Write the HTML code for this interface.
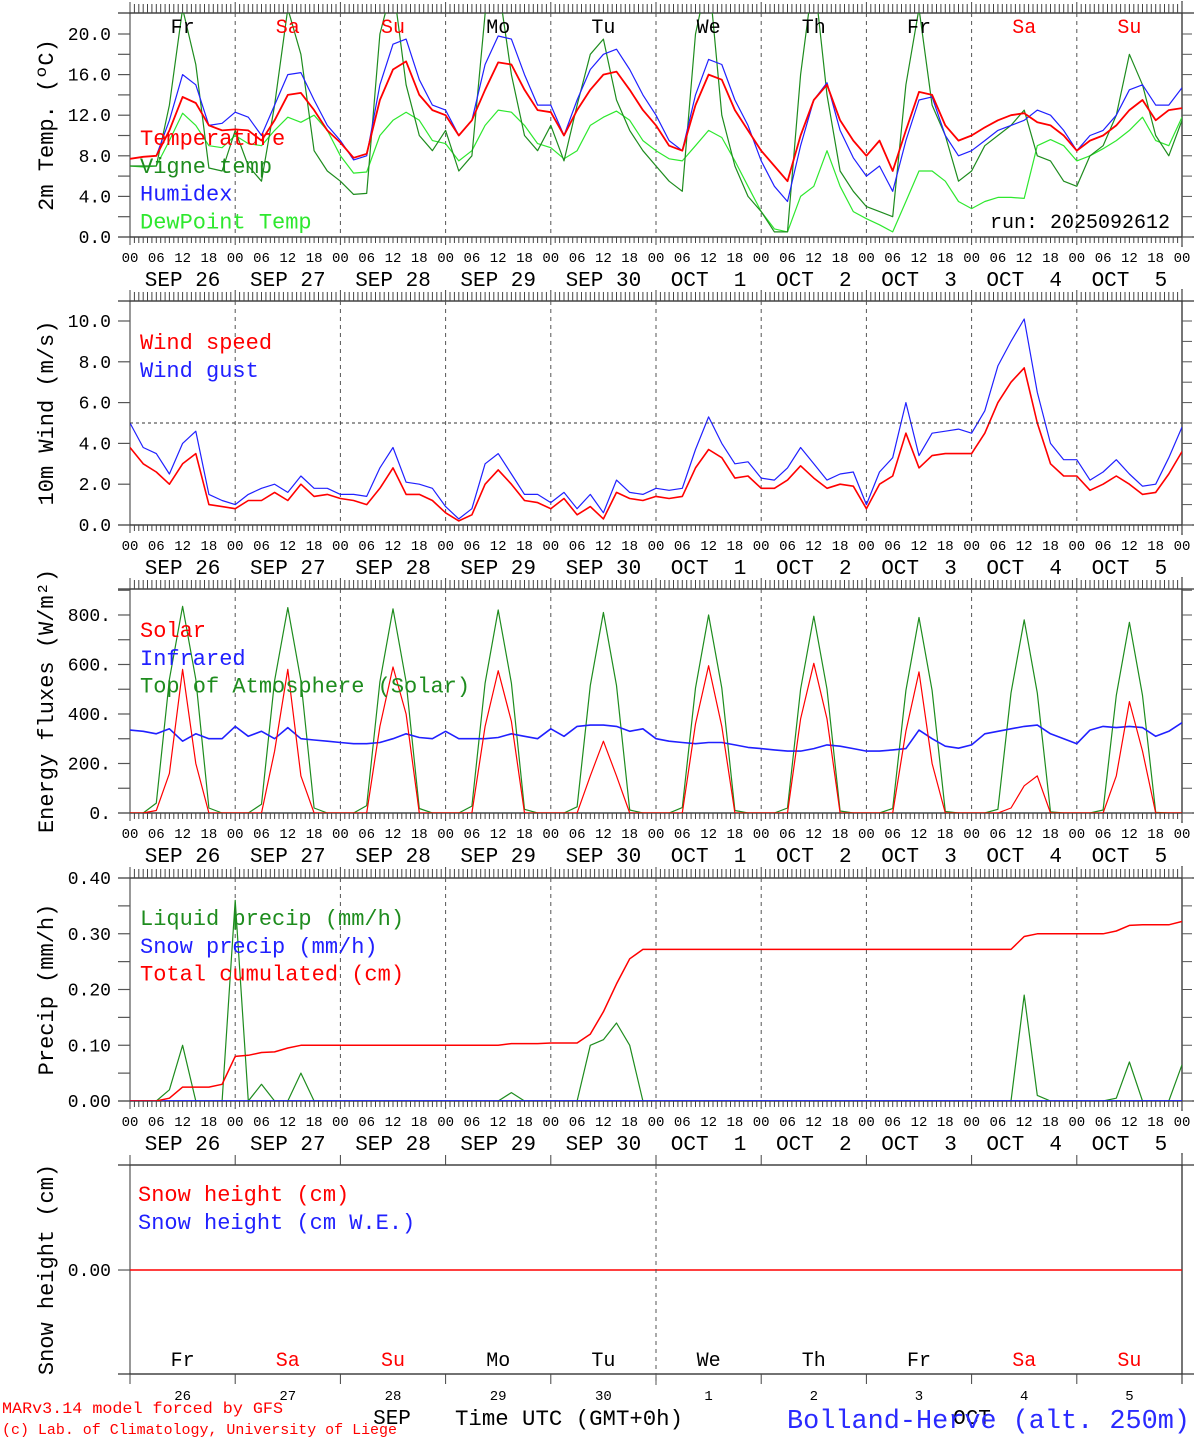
<!DOCTYPE html>
<html><head><meta charset="utf-8"><title>MAR meteogram Bolland-Herve</title>
<style>
html,body{margin:0;padding:0;background:#fff;}
svg{display:block;}
text{font-family:"Liberation Mono","DejaVu Sans Mono",monospace;}
</style></head>
<body>
<svg id="chart" width="1194" height="1440" viewBox="0 0 1194 1440" xmlns="http://www.w3.org/2000/svg"></svg>
<script>
// ---- data (3-hourly, Sep 26 00 UTC -> Oct 6 00 UTC) ----
const dayNames = ["Fr","Sa","Su","Mo","Tu","We","Th","Fr","Sa","Su"];
const dayColors = ["#000","#f00","#f00","#000","#000","#000","#000","#000","#f00","#f00"];
const dateLabels = ["SEP 26","SEP 27","SEP 28","SEP 29","SEP 30","OCT  1","OCT  2","OCT  3","OCT  4","OCT  5"];
const dayNumbers = ["26","27","28","29","30","1","2","3","4","5"];
const hourLabels = ["00","06","12","18"];

const temperature = [7.7,7.9,8.0,10.5,13.8,13.2,11.0,10.5, 10.6,10.5,9.5,11.5,14.0,14.2,12.5,10.5,
 9.3,7.8,8.2,13.5,16.5,17.3,14.0,12.5, 12.0,10.0,11.5,14.5,17.2,17.0,14.5,12.5,
 12.3,10.0,12.5,14.5,16.0,16.3,14.5,12.5, 11.0,9.0,8.5,13.0,16.0,15.5,12.5,10.5,
 8.5,7.0,5.5,10.0,13.5,15.0,11.5,9.5, 8.0,9.5,6.5,10.5,14.3,14.0,11.0,9.5,
 10.0,10.8,11.5,12.0,12.2,11.3,11.0,10.0, 8.5,9.5,10.0,11.0,12.5,13.5,11.5,12.5,12.7];
const humidex = [7.7,7.9,8.0,11.5,16.0,15.0,11.0,11.2, 12.3,11.8,10.0,13.0,16.0,16.2,13.5,11.0,
 9.5,7.6,8.0,15.0,19.0,19.5,15.5,13.0, 12.5,10.0,11.5,17.0,19.8,19.5,16.0,13.0,
 13.0,10.0,13.5,16.5,18.0,18.5,16.5,14.0, 12.0,9.5,8.5,14.0,17.5,17.0,13.5,11.0,
 7.5,5.0,3.5,9.0,13.5,15.2,10.5,7.8, 6.0,7.0,4.5,9.5,13.5,13.8,10.0,8.0,
 8.5,9.5,10.5,11.0,11.5,12.5,12.0,10.5, 8.5,10.0,10.5,12.0,14.5,15.0,13.0,13.0,14.7];
const dewpoint = [7.0,6.9,7.0,9.5,12.2,11.0,9.0,8.8, 10.0,9.2,9.0,10.5,11.8,11.3,12.0,10.5,
 8.0,6.3,6.4,10.0,11.5,12.3,11.5,9.5, 9.2,7.5,8.5,11.0,12.5,12.3,11.0,9.2,
 8.8,7.7,8.5,11.0,11.8,12.4,11.5,9.5, 8.5,7.7,7.5,9.0,10.5,9.8,7.5,5.0,
 2.5,0.8,0.5,4.0,5.0,8.5,5.0,2.5, 1.8,1.2,0.5,3.5,6.5,6.5,5.5,3.5,
 2.8,3.5,3.9,3.9,3.8,9.0,9.6,9.0, 7.5,8.0,8.7,9.5,10.5,11.8,9.5,9.0,11.8];
const vigne = [7.0,7.0,7.0,13.0,22.5,17.0,6.8,6.5, 10.5,7.0,5.5,13.0,22.5,18.0,8.5,6.5,
 5.5,4.2,4.3,20.0,25.0,15.0,10.0,8.5, 10.5,6.5,8.0,22.0,25.0,16.0,10.0,8.5,
 11.0,7.5,13.0,18.0,19.5,13.5,10.5,8.5, 7.0,5.5,4.5,20.0,26.0,12.0,7.0,4.0,
 2.5,0.5,0.5,16.0,26.0,14.0,6.5,4.5, 3.0,2.5,2.0,15.0,22.5,13.0,10.0,5.5,
 6.5,9.0,10.0,11.0,12.5,8.0,7.5,5.5, 5.0,8.0,9.0,12.0,18.0,15.0,10.0,8.0,11.5];

const windSpeed = [3.8,3.0,2.6,2.0,3.0,3.5,1.0,0.9, 0.8,1.2,1.2,1.6,1.2,2.0,1.4,1.5,
 1.3,1.2,1.0,1.8,2.8,1.5,1.5,1.2, 0.6,0.2,0.5,2.0,2.7,2.0,1.2,1.1,
 0.8,1.3,0.5,0.9,0.3,1.6,1.3,1.2, 1.4,1.3,1.4,2.8,3.7,3.3,2.3,2.4,
 1.8,1.8,2.2,2.9,2.3,1.8,2.0,1.9, 0.8,2.0,2.4,4.5,2.8,3.4,3.5,3.5,
 3.5,4.5,6.0,7.0,7.7,5.0,3.0,2.4, 2.4,1.7,2.0,2.4,2.0,1.5,1.6,2.5,3.6];
const windGust = [5.0,3.8,3.5,2.5,4.0,4.6,1.5,1.2, 1.0,1.5,1.8,2.0,1.6,2.4,1.8,1.8,
 1.5,1.5,1.4,2.8,3.8,2.1,2.0,1.8, 0.9,0.3,0.8,3.0,3.5,2.5,1.5,1.5,
 1.1,1.6,0.8,1.5,0.6,2.2,1.6,1.5, 1.8,1.7,1.8,3.7,5.3,4.0,3.0,3.1,
 2.3,2.2,2.8,3.8,3.0,2.2,2.5,2.6, 1.0,2.6,3.3,6.0,3.4,4.5,4.6,4.7,
 4.5,5.6,7.8,9.0,10.1,6.5,4.0,3.2, 3.2,2.2,2.6,3.2,2.5,1.9,2.0,3.3,4.8];

const toaSolar = [0,0,40,540,835,540,20,0, 0,0,35,535,830,535,20,0, 0,0,30,530,825,530,18,0,
 0,0,28,525,820,525,15,0, 0,0,25,515,810,515,12,0, 0,0,22,505,800,505,10,0,
 0,0,20,500,795,500,8,0, 0,0,18,495,790,495,6,0, 0,0,15,485,780,485,5,0,
 0,0,12,475,770,475,3,0,0];
const solar = [0,0,10,160,580,200,0,0, 0,0,0,250,580,150,0,0, 0,0,0,350,590,400,0,0,
 0,0,0,350,575,370,0,0, 0,0,0,150,290,150,0,0, 0,0,0,360,595,350,0,0,
 0,0,0,380,605,380,0,0, 0,0,0,330,570,200,0,0, 0,0,0,20,110,150,0,0,
 0,0,0,150,450,250,0,0,0];
const infrared = [335,330,320,340,290,320,300,300, 350,310,330,300,345,300,295,290,
 285,280,280,285,300,320,305,300, 330,300,300,300,305,320,310,300,
 340,310,350,355,355,350,330,340, 300,290,285,280,285,285,275,265,
 260,255,250,250,260,275,270,260, 250,250,255,260,335,300,270,262,
 275,320,330,340,350,355,320,300, 280,335,350,345,350,345,310,330,365];

const liquidPrecip = [0,0,0,0.02,0.10,0,0,0, 0.36,0,0.03,0,0,0.05,0,0, 0,0,0,0,0,0,0,0,
 0,0,0,0,0,0.015,0,0, 0,0,0,0.10,0.11,0.14,0.10,0, 0,0,0,0,0,0,0,0,
 0,0,0,0,0,0,0,0, 0,0,0,0,0,0,0,0, 0,0,0,0,0.19,0.01,0,0,
 0,0,0,0.005,0.07,0,0,0,0.065];
const snowPrecip = [0,0,0,0,0,0,0,0, 0,0,0,0,0,0,0,0, 0,0,0,0,0,0,0,0, 0,0,0,0,0,0,0,0,
 0,0,0,0,0,0,0,0, 0,0,0,0,0,0,0,0, 0,0,0,0,0,0,0,0, 0,0,0,0,0,0,0,0,
 0,0,0,0,0,0,0,0, 0,0,0,0,0,0,0,0,0];
const totalCumul = [0,0,0,0.005,0.025,0.025,0.025,0.03, 0.08,0.082,0.087,0.088,0.095,0.10,0.10,0.10,
 0.10,0.10,0.10,0.10,0.10,0.10,0.10,0.10, 0.10,0.10,0.10,0.10,0.10,0.103,0.103,0.103,
 0.104,0.104,0.104,0.12,0.16,0.21,0.255,0.272, 0.272,0.272,0.272,0.272,0.272,0.272,0.272,0.272,
 0.272,0.272,0.272,0.272,0.272,0.272,0.272,0.272, 0.272,0.272,0.272,0.272,0.272,0.272,0.272,0.272,
 0.272,0.272,0.272,0.272,0.295,0.30,0.30,0.30, 0.30,0.30,0.30,0.305,0.315,0.316,0.316,0.316,0.322];
const snowHeight = [0,0,0,0,0,0,0,0,0,0,0];

const tempTicks = ["0.0","4.0","8.0","12.0","16.0","20.0"];
const windTicks = ["0.0","2.0","4.0","6.0","8.0","10.0"];
const fluxTicks = ["0.","200.","400.","600.","800."];
const precipTicks = ["0.00","0.10","0.20","0.30","0.40"];
const snowTicks = ["0.00"];

// ---- layout ----
const NS = "http://www.w3.org/2000/svg";
const svg = document.getElementById('chart');
const X0 = 130, X1 = 1182, NSTEP = 80;
const dayW = (X1 - X0) / 10;
function xAt(i){ return X0 + (X1 - X0) * i / NSTEP; }
function mk(tag, attrs, parent){ const e = document.createElementNS(NS, tag); for (const k in attrs) e.setAttribute(k, attrs[k]); (parent||svg).appendChild(e); return e; }
function txt(s, x, y, size, color, anchor, parent){ const t = mk('text', {x:x, y:y, 'font-size':size, fill:color||'#000', 'text-anchor':anchor||'start'}, parent); t.setAttribute('xml:space','preserve'); t.style.whiteSpace='pre'; t.textContent = s; return t; }

function panel(cfg){
  const g = mk('g', {});
  
  
  const yAt = v => cfg.bot - (v - cfg.ymin) / (cfg.ymax - cfg.ymin) * (cfg.bot - cfg.top);
  const t0 = (cfg.t0 !== undefined) ? cfg.t0 : cfg.ymin;
  const fr = mk('rect', {x:X0, y:cfg.top, width:X1-X0, height:cfg.bot-cfg.top, fill:'none', stroke:'#555', 'stroke-width':1.2}, g);
  
  
  mk('line', {x1:118, y1:cfg.top, x2:1194, y2:cfg.top, stroke:'#333', 'stroke-width':1.2}, g);
  mk('line', {x1:118, y1:cfg.bot, x2:1194, y2:cfg.bot, stroke:'#333', 'stroke-width':1.2}, g);
  mk('line', {x1:X1, y1:cfg.top-12, x2:X1, y2:cfg.bot+10, stroke:'#333', 'stroke-width':1.2}, g);
  if (!cfg.snow){
    let d = '';
    for (let h = 0; h <= 240; h++){
      const x = X0 + (X1 - X0) * h / 240;
      const big = h % 24 === 0;
      d += `M${x.toFixed(1)} ${cfg.top} V${cfg.top - (big ? 11 : 9)} M${x.toFixed(1)} ${cfg.bot} V${cfg.bot + (big ? 8 : 6)} `;
    }
    mk('path', {d:d, stroke:'#444', 'stroke-width':1, fill:'none'}, g);
    for (let dd = 0; dd <= 10; dd++){
      for (let k = 0; k < 4; k++){
        if (dd === 10 && k > 0) break;
        const x = X0 + dd * dayW + k * dayW / 4;
        const t = txt(hourLabels[k], x, cfg.bot + 25, 14, '#000', 'middle', g);
        
        
      }
      if (dd < 10){
        const t = txt(dateLabels[dd], X0 + dd * dayW + dayW/2, cfg.bot + 49, 21, '#000', 'middle', g);
        
        
      }
    }
    for (let dd = 1; dd < 10; dd++){
      const x = X0 + dd * dayW;
      mk('line', {x1:x, y1:cfg.top, x2:x, y2:cfg.bot, stroke:'#555', 'stroke-width':1, 'stroke-dasharray':'4,4'}, g);
    }
  }
  cfg.ticks.forEach((lab, i) => {
    const v = t0 + i * cfg.tstep;
    const y = yAt(v);
    mk('line', {x1:118, y1:y, x2:X0, y2:y, stroke:'#555', 'stroke-width':1.2}, g);
    if (!cfg.snow) mk('line', {x1:X1, y1:y, x2:X1+10, y2:y, stroke:'#555', 'stroke-width':1}, g);
    const t = txt(lab, 111, y + 6, 18, '#000', 'end', g);
    
    
    if (cfg.minor){
      const ym = yAt(v + cfg.tstep/2);
      if (ym > cfg.top + 1){
        mk('line', {x1:118, y1:ym, x2:X0, y2:ym, stroke:'#555', 'stroke-width':1.2}, g);
        mk('line', {x1:X1, y1:ym, x2:X1+10, y2:ym, stroke:'#555', 'stroke-width':1}, g);
      }
    }
  });
  const yt = txt(cfg.title, 0, 0, 22, '#000', 'middle', g);
  yt.setAttribute('transform', `translate(${cfg.titleX||53},${(cfg.top+cfg.bot)/2}) rotate(-90)`);
  
  
  const cid = 'clip-' + cfg.name;
  const cp = mk('clipPath', {id:cid}, g);
  mk('rect', {x:X0, y:cfg.top, width:X1-X0, height:cfg.bot-cfg.top}, cp);
  cfg.series.forEach(s => {
    let d = '';
    s.data.forEach((v, i) => { d += (i ? 'L' : 'M') + xAt(i * (s.step||1)).toFixed(1) + ' ' + yAt(v).toFixed(1); });
    const p = mk('path', {d:d, fill:'none', stroke:s.color, 'stroke-width':s.w||1.2, 'clip-path':`url(#${cid})`, 'stroke-linejoin':'round'}, g);
    
    
  });
  cfg.legend.forEach((l, i) => {
    const t = txt(l[0], cfg.legX||140, cfg.legY + i * 27.8, 22, l[1], 'start', g);
    
    
  });
  return {g, yAt};
}

const p1 = panel({name:'temperature-panel', top:13, bot:237, ymin:0, ymax:22.07, ticks:tempTicks, tstep:4, minor:true,
  title:'2m Temp. (ºC)', legY:145,
  series:[{name:'dewpoint-line',data:dewpoint,color:'#2ee82e'},{name:'vigne-temp-line',data:vigne,color:'#1e8c1e'},
          {name:'humidex-line',data:humidex,color:'#2020ff'},{name:'temperature-line',data:temperature,color:'#ff0000',w:1.8}],
  legend:[['Temperature','#ff0000'],['Vigne temp','#1e8c1e'],['Humidex','#2020ff'],['DewPoint Temp','#2ee82e']]});
dayNames.forEach((n, i) => {
  const t = txt(n, X0 + i * dayW + dayW/2, 33, 20, dayColors[i], 'middle', p1.g);
  
  
});
const run = txt('run: 2025092612', 1170, 228, 20, '#000', 'end', p1.g);



const p2 = panel({name:'wind-panel', top:301, bot:525, ymin:0, ymax:10.98, ticks:windTicks, tstep:2, minor:false,
  title:'10m Wind (m/s)', legY:349,
  series:[{name:'wind-gust-line',data:windGust,color:'#2020ff'},{name:'wind-speed-line',data:windSpeed,color:'#ff0000',w:1.6}],
  legend:[['Wind speed','#ff0000'],['Wind gust','#2020ff']]});
{ const y = p2.yAt(5); const l = mk('line', {x1:X0, y1:y, x2:X1, y2:y, stroke:'#333', 'stroke-width':1, 'stroke-dasharray':'3,3'}, p2.g);
    }
for (let v = 1; v < 11; v += 2){ const y = p2.yAt(v); mk('line', {x1:X1, y1:y, x2:X1+10, y2:y, stroke:'#555'}, p2.g); }

const p3 = panel({name:'energy-panel', top:589, bot:813, ymin:0, ymax:905, ticks:fluxTicks, tstep:200, minor:true,
  title:'Energy fluxes (W/m²)', legY:637,
  series:[{name:'toa-solar-line',data:toaSolar,color:'#1e8c1e'},{name:'infrared-line',data:infrared,color:'#2020ff',w:1.6},
          {name:'solar-line',data:solar,color:'#ff0000'}],
  legend:[['Solar','#ff0000'],['Infrared','#2020ff'],['Top of Atmosphere (Solar)','#1e8c1e']]});

const p4 = panel({name:'precip-panel', top:878, bot:1101, ymin:0, ymax:0.40, ticks:precipTicks, tstep:0.1, minor:true,
  title:'Precip (mm/h)', legY:925,
  series:[{name:'liquid-precip-line',data:liquidPrecip,color:'#1e8c1e'},{name:'snow-precip-line',data:snowPrecip,color:'#2020ff',w:1.8},
          {name:'total-cumulated-line',data:totalCumul,color:'#ff0000',w:1.5}],
  legend:[['Liquid precip (mm/h)','#1e8c1e'],['Snow precip (mm/h)','#2020ff'],['Total cumulated (cm)','#ff0000']]});

const p5 = panel({name:'snow-panel', top:1165, bot:1374, ymin:-1, ymax:1.01, t0:0, ticks:snowTicks, tstep:1, minor:false, snow:true,
  title:'Snow height (cm)', legY:1201, legX:138,
  series:[{name:'snow-height-line',data:snowHeight,color:'#ff0000',step:8,w:1.5}],
  legend:[['Snow height (cm)','#ff0000'],['Snow height (cm W.E.)','#2020ff']]});
{
  for (let dd = 0; dd <= 10; dd++){
    const x = X0 + dd * dayW;
    mk('line', {x1:x, y1:1374, x2:x, y2:1384, stroke:'#444'}, p5.g);
    mk('line', {x1:x, y1:1165, x2:x, y2:1155, stroke:'#444'}, p5.g);
  }
  const dv = mk('line', {x1:X0+5*dayW, y1:1165, x2:X0+5*dayW, y2:1385, stroke:'#555', 'stroke-dasharray':'4,4'}, p5.g);
  
  
  dayNames.forEach((n, i) => {
    const t = txt(n, X0 + i*dayW + dayW/2, 1366, 20, dayColors[i], 'middle', p5.g);
    
    
    const u = txt(dayNumbers[i], X0 + i*dayW + dayW/2, 1400, 14, '#000', 'middle', p5.g);
    
    
  });
}
function foot(s, x, y, size, color, anchor, name, len){
  const t = txt(s, x, y, size, color, anchor);
  if (len){ t.setAttribute('textLength', len); t.setAttribute('lengthAdjust','spacingAndGlyphs'); }
  
  
}
foot('SEP', 392, 1424, 21, '#000', 'middle', 'month-label-sep');
foot('OCT', 972, 1424, 21, '#000', 'middle', 'month-label-oct');
foot('Time UTC (GMT+0h)', 455, 1425, 22, '#000', 'start', 'x-axis-title', 228);
foot('MARv3.14 model forced by GFS', 2, 1413, 16, '#ff0000', 'start', 'model-credit', 281);
foot('(c) Lab. of Climatology, University of Liege', 2, 1434, 15, '#ff0000', 'start', 'copyright-credit', 395);
foot('Bolland-Herve (alt. 250m)', 787, 1428, 27, '#2a2aff', 'start', 'station-title', 403);
</script>
</body></html>
